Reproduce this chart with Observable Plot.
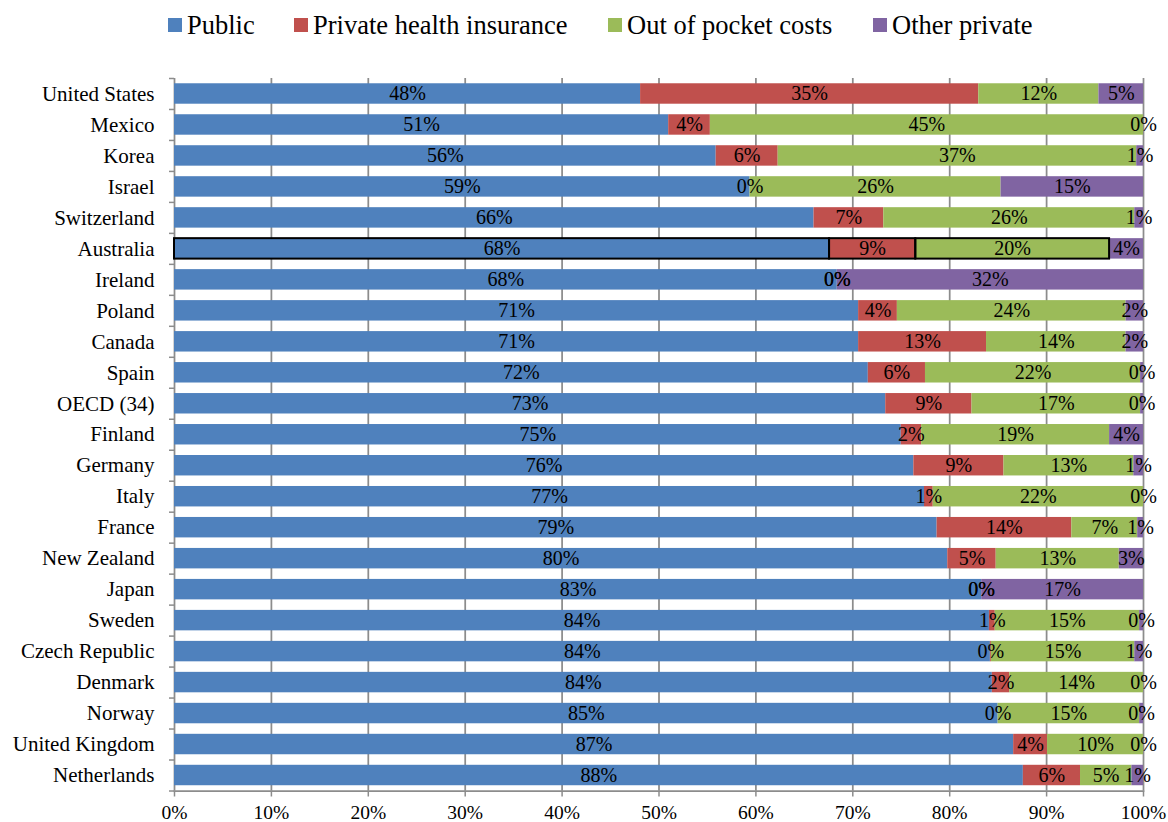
<!DOCTYPE html>
<html>
<head>
<meta charset="utf-8">
<script src="https://cdn.jsdelivr.net/npm/d3@7"></script>
<script src="https://cdn.jsdelivr.net/npm/@observablehq/plot@0.6"></script>
<style>
  html, body { margin: 0; padding: 0; background: white; }
  #wrap { width: 1168px; font-family: "Liberation Serif", "Times New Roman", serif; }
  #legend { position: relative; height: 60px; width: 1168px; }
  .item { position: absolute; top: 12px; height: 26px; line-height: 26px; display: flex; align-items: center; font-size: 26.5px; color: #000; white-space: nowrap; }
  .sw { width: 14px; height: 14px; margin-right: 5px; flex: none; }
  svg { display: block; }
</style>
</head>
<body>
<div id="wrap">
  <div id="legend"></div>
  <div id="chart"></div>
</div>
<script>
const countries = ["United States","Mexico","Korea","Israel","Switzerland","Australia","Ireland","Poland","Canada","Spain","OECD (34)","Finland","Germany","Italy","France","New Zealand","Japan","Sweden","Czech Republic","Denmark","Norway","United Kingdom","Netherlands"];
const publicShare      = [48.1,51.0,55.9,59.4,66.0,67.6,68.4,70.6,70.6,71.6,73.4,75.0,76.3,77.4,78.7,79.8,83.3,84.1,84.2,84.4,85.0,86.6,87.6];
const privateInsurance = [34.9,4.3,6.4,0,7.2,8.9,0,4.0,13.2,5.9,8.9,2.1,9.3,0.9,13.9,5.0,0,0.6,0.1,1.8,0,3.5,5.9];
const outOfPocket      = [12.4,44.7,37.0,25.9,25.9,20.0,0,23.6,14.4,22.2,17.4,19.4,13.4,21.7,6.8,12.7,0,14.9,14.8,13.8,14.6,9.9,5.3];
const otherPrivate     = [4.6,0,0.7,14.7,0.9,3.5,31.6,1.8,1.8,0.3,0.3,3.5,1.0,0,0.6,2.5,16.7,0.4,0.9,0,0.4,0,1.2];
const seriesNames = ["Public","Private health insurance","Out of pocket costs","Other private"];
const seriesColors = ["#4F81BD","#C0504D","#9BBB59","#8064A2"];
const xTicks = [0,10,20,30,40,50,60,70,80,90,100];
const highlighted = "Australia";
const legendLeft = [168, 294, 608, 873];

const seriesValues = [publicShare, privateInsurance, outOfPocket, otherPrivate];
const rows = [];
countries.forEach((c, i) => seriesNames.forEach((s, j) => rows.push({country: c, series: s, value: seriesValues[j][i]})));

// legend
const legend = document.getElementById("legend");
seriesNames.forEach((s, j) => {
  const it = document.createElement("div");
  it.className = "item";
  it.style.left = legendLeft[j] + "px";
  it.innerHTML = `<span class="sw" style="background:${seriesColors[j]}"></span><span>${s}</span>`;
  legend.appendChild(it);
});

const grey = "#8c8c8c";
const chart = Plot.plot({
  width: 1168,
  height: 762,
  marginLeft: 174,
  marginRight: 25,
  marginTop: 18,
  marginBottom: 31.5,
  style: {fontFamily: "'Liberation Serif', 'Times New Roman', serif", background: "white", color: "black"},
  x: {domain: [0, 100]},
  y: {domain: countries, paddingInner: 0.34, paddingOuter: 0.17, round: false},
  color: {domain: seriesNames, range: seriesColors},
  marks: [
    Plot.ruleX(xTicks, {stroke: grey, strokeWidth: 1.75}),
    Plot.barX(rows, Plot.stackX({x: "value", y: "country", fill: "series"})),
    Plot.barX(rows, Plot.stackX({x: "value", y: "country", filter: d => d.country === highlighted && d.series !== "Other private", fill: "none", stroke: "black", strokeWidth: 2})),
    Plot.text(rows, Plot.stackX({x: "value", y: "country", text: d => Math.round(d.value) + "%", fontSize: 20, fill: "black"})),
    Plot.frame({anchor: "bottom", stroke: grey, strokeWidth: 1.75}),
    Plot.axisX({ticks: xTicks, tickFormat: d => d + "%", tickSize: 6, tickPadding: 8, fontSize: 19.5, stroke: grey, strokeWidth: 1.5, label: null}),
    Plot.axisY({tickSize: 0, tickPadding: 20, fontSize: 21, label: null}),
    Plot.axisY({tickSize: 5, tickFormat: () => "", dy: -15.5, stroke: grey, strokeWidth: 1.5, label: null}),
    Plot.axisY({ticks: [countries[countries.length - 1]], tickSize: 5, tickFormat: () => "", dy: 15.5, stroke: grey, strokeWidth: 1.5, label: null})
  ]
});
document.getElementById("chart").appendChild(chart);
</script>
</body>
</html>
